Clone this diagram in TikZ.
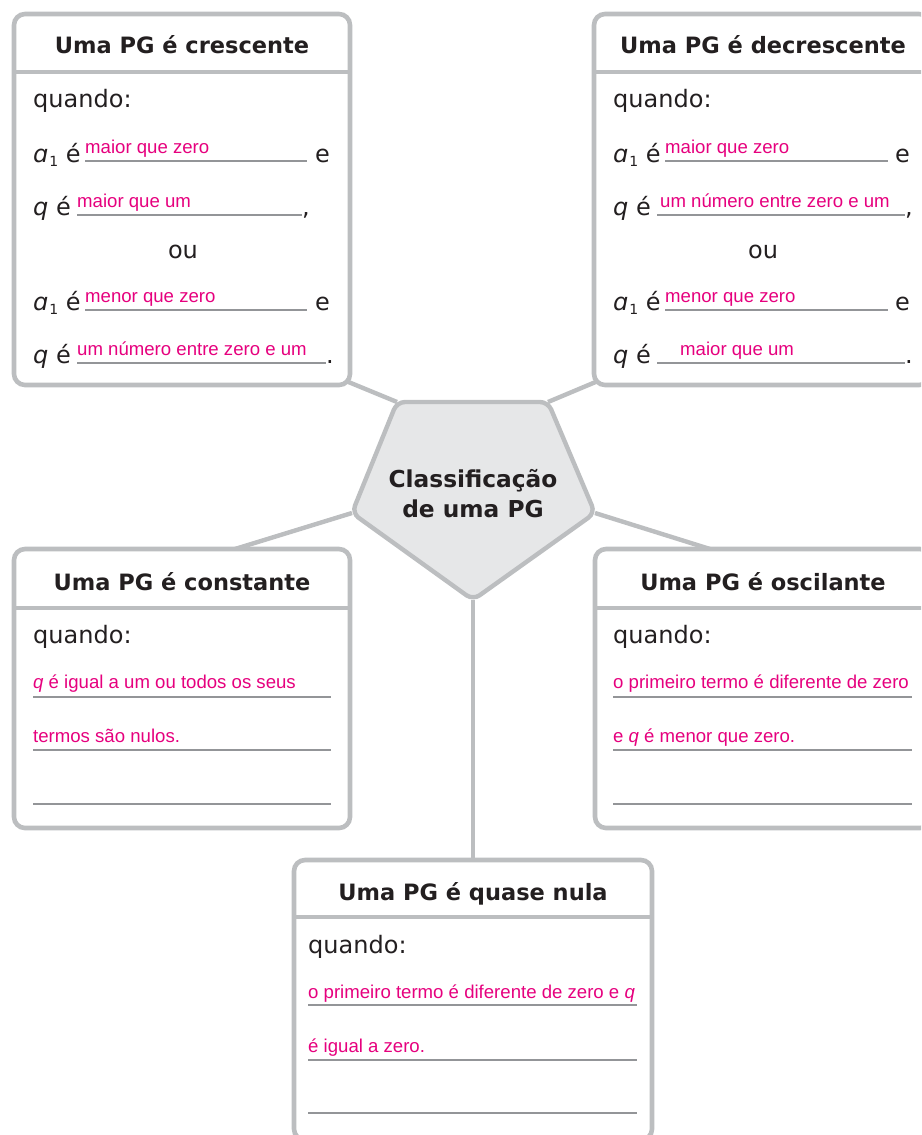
\documentclass[tikz,border=0pt]{standalone}
\usepackage{fontspec}
\setmainfont{DejaVu Sans}
\newfontfamily\answerfont{Liberation Sans}
\usetikzlibrary{backgrounds}

\definecolor{cardgray}{HTML}{BCBEC0}
\definecolor{hubfill}{HTML}{E6E7E8}
\definecolor{rulegray}{HTML}{939598}
\definecolor{answerpink}{HTML}{E6007E}
\definecolor{ink}{HTML}{231F20}

% italic a with subscript 1
\newcommand\aone{{\itshape ɑ}\kern1pt\raisebox{-0.2em}{\fontsize{14}{14}\selectfont 1}}

\tikzset{
  card/.style={draw=cardgray, line width=4.6pt, rounded corners=11pt, fill=white,
    anchor=north west, inner sep=0pt, outer sep=0pt},
  link/.style={draw=cardgray, line width=4.4pt},
  divider/.style={draw=cardgray, line width=4.6pt},
  blank/.style={draw=rulegray, line width=1.2pt},
  heading/.style={anchor=base, text=ink, inner sep=0pt,
    font=\fontsize{22.5}{27}\selectfont\bfseries},
  plain/.style={anchor=base west, text=ink, inner sep=0pt,
    font=\fontsize{24}{28}\selectfont},
  middle/.style={plain, anchor=base},
  answer/.style={anchor=base west, text=answerpink, inner sep=0pt,
    font=\answerfont\fontsize{18.6}{22}\selectfont},
  hubtext/.style={anchor=base, text=ink, inner sep=0pt,
    font=\fontsize{23.3}{28}\selectfont\bfseries},
}

\begin{document}
\begin{tikzpicture}[x=1pt,y=-1pt]
\useasboundingbox (0,0) rectangle (921,1135);
\clip (0,0) rectangle (921,1135);

% ---- Uma PG é crescente ----
\begin{scope}[shift={(14,14)}]
  \node[card, minimum width=336pt, minimum height=371pt] (cres) at (0,0) {};
  \draw[divider] (0,58) -- (336,58);
  \node[heading] (cres-t) at (168,39) {Uma PG é crescente};
  \node[plain] (cres-q) at (19,93) {quando:};
  % first condition
  \node[plain] (cres-l1) at (19,148) {\aone{} é};
  \draw[blank] (71,147) -- (293,147);
  \node[answer] (cres-a1) at (71,139) {maior que zero};
  \node[plain] (cres-e1) at (301,148) {e};
  \node[plain] (cres-l2) at (19,201) {{\itshape q} é};
  \draw[blank] (63,201) -- (288,201);
  \node[answer] (cres-a2) at (63,193) {maior que um};
  \node[plain] (cres-c2) at (288,201) {,};
  \node[middle] (cres-ou) at (169,244) {ou};
  % second condition
  \node[plain] (cres-l3) at (19,296) {\aone{} é};
  \draw[blank] (71,296) -- (293,296);
  \node[answer] (cres-a3) at (71,288) {menor que zero};
  \node[plain] (cres-e3) at (301,296) {e};
  \node[plain] (cres-l4) at (19,349) {{\itshape q} é};
  \draw[blank] (63,349) -- (312,349);
  \node[answer] (cres-a4) at (63,341) {um número entre zero e um};
  \node[plain] (cres-p4) at (312,349) {.};
\end{scope}

% ---- Uma PG é decrescente ----
\begin{scope}[shift={(594,14)}]
  \node[card, minimum width=336pt, minimum height=371pt] (decr) at (0,0) {};
  \draw[divider] (0,58) -- (336,58);
  \node[heading] (decr-t) at (169,39) {Uma PG é decrescente};
  \node[plain] (decr-q) at (19,93) {quando:};
  \node[plain] (decr-l1) at (19,148) {\aone{} é};
  \draw[blank] (71,147) -- (294,147);
  \node[answer] (decr-a1) at (71,139) {maior que zero};
  \node[plain] (decr-e1) at (301,148) {e};
  \node[plain] (decr-l2) at (19,201) {{\itshape q} é};
  \draw[blank] (63,201) -- (311,201);
  \node[answer] (decr-a2) at (66,193) {um número entre zero e um};
  \node[plain] (decr-c2) at (311,201) {,};
  \node[middle] (decr-ou) at (169,244) {ou};
  \node[plain] (decr-l3) at (19,296) {\aone{} é};
  \draw[blank] (71,296) -- (294,296);
  \node[answer] (decr-a3) at (71,288) {menor que zero};
  \node[plain] (decr-e3) at (301,296) {e};
  \node[plain] (decr-l4) at (19,349) {{\itshape q} é};
  \draw[blank] (63,349) -- (311,349);
  \node[answer] (decr-a4) at (86,341) {maior que um};
  \node[plain] (decr-p4) at (311,349) {.};
\end{scope}

% ---- Uma PG é constante ----
\begin{scope}[shift={(14,549)}]
  \node[card, minimum width=336pt, minimum height=279pt] (const) at (0,0) {};
  \draw[divider] (0,59) -- (336,59);
  \node[heading] (const-t) at (168,41) {Uma PG é constante};
  \node[plain] (const-q) at (19,94) {quando:};
  \node[answer] (const-a1) at (19,139) {\textit{q} é igual a um ou todos os seus};
  \draw[blank] (19,148) -- (317,148);
  \node[answer] (const-a2) at (19,193) {termos são nulos.};
  \draw[blank] (19,201) -- (317,201);
  \draw[blank] (19,255) -- (317,255);
\end{scope}

% ---- Uma PG é oscilante ----
\begin{scope}[shift={(595,549)}]
  \node[card, minimum width=336pt, minimum height=279pt] (osc) at (0,0) {};
  \draw[divider] (0,59) -- (336,59);
  \node[heading] (osc-t) at (168,41) {Uma PG é oscilante};
  \node[plain] (osc-q) at (18,94) {quando:};
  \node[answer] (osc-a1) at (18,139) {o primeiro termo é diferente de zero};
  \draw[blank] (18,148) -- (317,148);
  \node[answer] (osc-a2) at (18,193) {e \textit{q} é menor que zero.};
  \draw[blank] (18,201) -- (317,201);
  \draw[blank] (18,255) -- (317,255);
\end{scope}

% ---- Uma PG é quase nula ----
\begin{scope}[shift={(294,860)}]
  \node[card, minimum width=358pt, minimum height=280pt] (quase) at (0,0) {};
  \draw[divider] (0,57) -- (358,57);
  \node[heading] (quase-t) at (179,40) {Uma PG é quase nula};
  \node[plain] (quase-q) at (14,93) {quando:};
  \node[answer] (quase-a1) at (14,138) {o primeiro termo é diferente de zero e \textit{q}};
  \draw[blank] (14,145) -- (343,145);
  \node[answer] (quase-a2) at (14,192) {é igual a zero.};
  \draw[blank] (14,200) -- (343,200);
  \draw[blank] (14,253) -- (343,253);
\end{scope}

% ---- central pentagon ----
\coordinate (p0) at (472.5,402);
\coordinate (p1) at (397,402);
\coordinate (p2) at (548,402);
\coordinate (p3) at (595,513);
\coordinate (p4) at (473,600);
\coordinate (p5) at (352,513);
\draw[link, fill=hubfill, rounded corners=8pt]
  (p0) -- (p2) -- (p3) -- (p4) -- (p5) -- (p1) -- cycle;
\node[hubtext] (hub-a) at (473,487) {Classificação};
\node[hubtext] (hub-b) at (473,517) {de uma PG};

% ---- connectors ----
\begin{scope}[on background layer]
  \draw[link] (p1) -- ([shift={(-4pt,4pt)}]cres.south east);
  \draw[link] (p2) -- ([shift={(4pt,4pt)}]decr.south west);
  \draw[link] (p5) -- ([xshift=221pt]const.north west);
  \draw[link] (p3) -- ([xshift=115pt]osc.north west);
  \draw[link] (p4) -- (quase.north);
\end{scope}
\end{tikzpicture}
\end{document}
